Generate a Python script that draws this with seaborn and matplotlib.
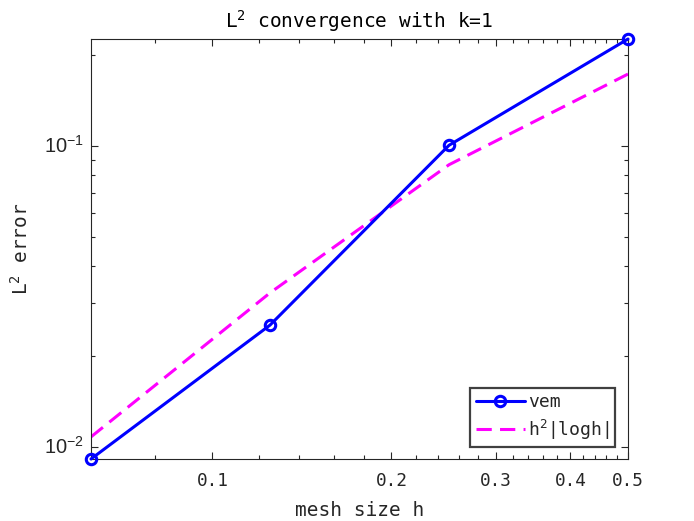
import matplotlib
matplotlib.use("Agg")
import matplotlib.pyplot as plt
import matplotlib.ticker as mticker
import numpy as np
import pandas as pd
import seaborn as sns

# data
h = [0.0625, 0.125, 0.25, 0.5]
vem_err = [0.00912, 0.0254, 0.1005, 0.2266]
ref_err = [0.0108, 0.0325, 0.0866, 0.1733]
x_ticks = [0.1, 0.2, 0.3, 0.4, 0.5]
x_tick_labels = ["0.1", "0.2", "0.3", "0.4", "0.5"]
y_ticks = [0.01, 0.1]
y_tick_labels = [r"$\mathregular{10^{-2}}$", r"$\mathregular{10^{-1}}$"]

df = pd.DataFrame({"h": h, "vem": vem_err, "ref": ref_err})

sns.set_style("ticks")
plt.rcParams["font.family"] = ["DejaVu Sans Mono", "DejaVu Sans"]

fig = plt.figure(figsize=(6.94, 5.21), dpi=100)
ax = fig.add_axes([91 / 694, 1 - 459 / 521, 537 / 694, 420 / 521])

sns.lineplot(data=df, x="h", y="vem", ax=ax, color=(0, 0, 1), lw=2.2,
             marker="o", markersize=7.5, markeredgewidth=2.2,
             markerfacecolor="none", markeredgecolor=(0, 0, 1),
             label="vem", clip_on=False, zorder=3)
sns.lineplot(data=df, x="h", y="ref", ax=ax, color=(1, 0, 1), lw=2.2,
             dashes=(5, 2.7), label=r"$\mathregular{h^2}$|logh|", zorder=2)

ax.set_xscale("log")
ax.set_yscale("log")
ax.set_xlim(0.0625, 0.5)
ax.set_ylim(0.00912, 0.2266)

ax.xaxis.set_major_locator(mticker.FixedLocator(x_ticks))
ax.xaxis.set_major_formatter(mticker.FixedFormatter(x_tick_labels))
minor_x = [v for v in np.round(np.arange(0.08, 0.5, 0.02), 2) if v not in (0.1, 0.2, 0.3, 0.4)]
ax.xaxis.set_minor_locator(mticker.FixedLocator(minor_x))
ax.xaxis.set_minor_formatter(mticker.NullFormatter())

ax.yaxis.set_major_locator(mticker.FixedLocator(y_ticks))
ax.yaxis.set_major_formatter(mticker.FixedFormatter(y_tick_labels))
ax.yaxis.set_minor_locator(mticker.LogLocator(base=10, subs=np.arange(2, 10), numticks=20))
ax.yaxis.set_minor_formatter(mticker.NullFormatter())

ax.tick_params(which="both", direction="in", top=True, right=True, color="#262626", width=0.8)
ax.tick_params(which="major", length=5)
ax.tick_params(which="minor", length=3)
ax.tick_params(axis="x", which="major", labelsize=12.8, pad=9, labelcolor="#262626")
ax.tick_params(axis="y", which="major", labelsize=14.5, pad=5, labelcolor="#262626")
for lab in ax.get_yticklabels():
    lab.set_family("Liberation Sans")
    lab.set_verticalalignment("center")
for s in ax.spines.values():
    s.set_color("#262626")
    s.set_linewidth(0.8)
    s.set_visible(True)

ax.set_title(r"$\mathregular{L^2}$ convergence with k=1", fontsize=14, pad=8, color="#000000")
ax.set_xlabel("mesh size h", fontsize=14, labelpad=8, color="#262626")
ax.set_ylabel(r"$\mathregular{L^2}$ error", fontsize=14, labelpad=9, color="#262626")

leg = ax.legend(loc="lower right", bbox_to_anchor=(615 / 694, 1 - 447 / 521),
                bbox_transform=fig.transFigure, fontsize=13, frameon=True,
                fancybox=False, framealpha=1, edgecolor="#404040",
                handlelength=2.7, handletextpad=0.2, borderpad=0.3,
                labelspacing=0.35, borderaxespad=0)
leg.get_frame().set_linewidth(1.6)

fig.savefig("out.png", dpi=100, facecolor="white")
